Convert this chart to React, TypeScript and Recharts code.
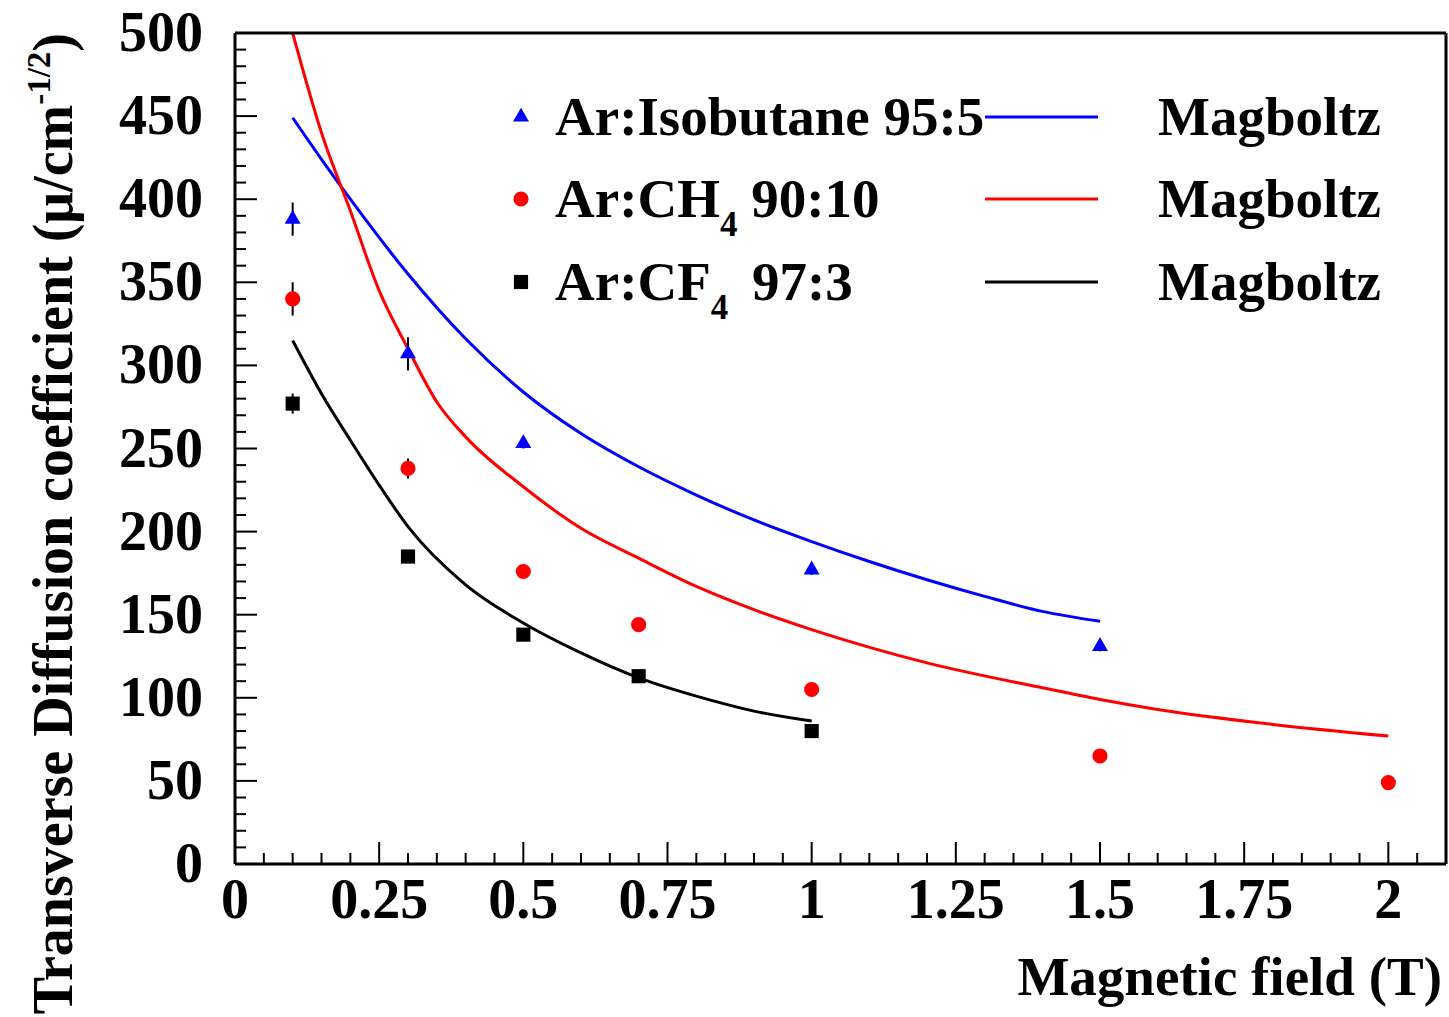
import React from "react";
import {
  ComposedChart,
  Line,
  Scatter,
  XAxis,
  YAxis,
  ErrorBar,
  Symbols,
} from "recharts";

// measured points
const isoB = [0.1, 0.3, 0.5, 1.0, 1.5];
const isoD = [388, 307, 253, 177, 131];
const isoE = [10, 10, 3, 3, 3];

const ch4B = [0.1, 0.3, 0.5, 0.7, 1.0, 1.5, 2.0];
const ch4D = [340, 238, 176, 144, 105, 65, 49];
const ch4E = [10, 6, 3, 3, 3, 3, 3];

const cf4B = [0.1, 0.3, 0.5, 0.7, 1.0];
const cf4D = [277, 185, 138, 113, 80];
const cf4E = [6, 3, 3, 3, 3];

// Magboltz curves
const isoMagB = [0.1, 0.15, 0.2, 0.3, 0.4, 0.5, 0.6, 0.7, 0.8, 0.9, 1.0, 1.1, 1.2, 1.3, 1.4, 1.5];
const isoMagD = [449, 424, 400, 355, 316, 284, 259, 239, 222, 207, 194, 182, 171, 161, 152, 146];

const ch4MagB = [0.1, 0.15, 0.2, 0.25, 0.3, 0.35, 0.4, 0.5, 0.6, 0.7, 0.8, 0.9, 1.0, 1.2, 1.4, 1.5, 1.6, 1.8, 2.0];
const ch4MagD = [500, 440, 393, 345, 310, 278, 257, 227, 202, 184, 167, 153, 141, 121, 106, 99, 93, 84, 77];

const cf4MagB = [0.1, 0.15, 0.2, 0.25, 0.3, 0.4, 0.5, 0.6, 0.7, 0.8, 0.9, 1.0];
const cf4MagD = [315, 283, 255, 228, 203, 168, 145, 127, 112, 101, 92, 86];

const xMajor = [0, 0.25, 0.5, 0.75, 1, 1.25, 1.5, 1.75, 2];
const yMajor = [0, 50, 100, 150, 200, 250, 300, 350, 400, 450, 500];
const xMinor = Array.from({ length: 43 }, (_, i) => Number((i * 0.05).toFixed(2)));
const yMinor = Array.from({ length: 51 }, (_, i) => i * 10);

const FONT = "'Liberation Serif', 'Times New Roman', serif";
const BLUE = "#0000ff";
const RED = "#ff0000";

const pts = (b: number[], d: number[], e?: number[]) =>
  b.map((x, i) => ({ x, y: d[i], err: e ? e[i] : 0 }));

const isoPts = pts(isoB, isoD, isoE);
const ch4Pts = pts(ch4B, ch4D, ch4E);
const cf4Pts = pts(cf4B, cf4D, cf4E);
const isoMag = pts(isoMagB, isoMagD);
const ch4Mag = pts(ch4MagB, ch4MagD);
const cf4Mag = pts(cf4MagB, cf4MagD);

const isMajor = (v: number, list: number[]) => list.some((m) => Math.abs(m - v) < 1e-6);

const BottomTick = (p: any) => {
  const v = p.payload.value;
  const major = isMajor(v, xMajor);
  return (
    <g>
      <line x1={p.x} x2={p.x} y1={p.y} y2={p.y - (major ? 22 : 11)} stroke="#000" strokeWidth={2} />
      {major && (
        <text x={p.x} y={p.y + 54} textAnchor="middle" fontFamily={FONT} fontWeight="bold" fontSize={56} fill="#000">
          {String(v)}
        </text>
      )}
    </g>
  );
};

const TopTick = (p: any) => {
  const major = isMajor(p.payload.value, xMajor);
  return <line x1={p.x} x2={p.x} y1={p.y} y2={p.y + (major ? 22 : 11)} stroke="#000" strokeWidth={2} />;
};

const LeftTick = (p: any) => {
  const v = p.payload.value;
  const major = isMajor(v, yMajor);
  return (
    <g>
      <line x1={p.x} x2={p.x + (major ? 22 : 11)} y1={p.y} y2={p.y} stroke="#000" strokeWidth={2} />
      {major && (
        <text x={p.x - 32} y={p.y + 18} textAnchor="end" fontFamily={FONT} fontWeight="bold" fontSize={56} fill="#000">
          {String(v)}
        </text>
      )}
    </g>
  );
};

const RightTick = (p: any) => {
  const major = isMajor(p.payload.value, yMajor);
  return <line x1={p.x} x2={p.x - (major ? 22 : 11)} y1={p.y} y2={p.y} stroke="#000" strokeWidth={2} />;
};

const XTitle = (p: any) => {
  const vb = p.viewBox;
  return (
    <text x={vb.x + vb.width - 4} y={vb.y + 131} textAnchor="end" fontFamily={FONT} fontWeight="bold" fontSize={55} fill="#000">
      Magnetic field (T)
    </text>
  );
};

const YTitle = (p: any) => {
  const vb = p.viewBox;
  return (
    <text
      transform={`translate(72, ${vb.y}) rotate(-90)`}
      textAnchor="end"
      fontFamily={FONT}
      fontWeight="bold"
      fontSize={56}
      fill="#000"
    >
      Transverse Diffusion coefficient (μ/cm
      <tspan dy={-22} fontSize={33}>-1/2</tspan>
      <tspan dy={22}>)</tspan>
    </text>
  );
};

const marker = (type: any, color: string, size: number) => (p: any) =>
  <Symbols cx={p.cx} cy={p.cy} type={type} size={size} fill={color} />;

const legendRows = [
  { type: "triangle", color: BLUE, size: 110, y: 117 },
  { type: "circle", color: RED, size: 180, y: 199 },
  { type: "square", color: "#000", size: 200, y: 282 },
];

const Legend = () => (
  <svg width={1449} height={1017} style={{ position: "absolute", left: 0, top: 0, pointerEvents: "none" }}>
    {legendRows.map((r, i) => (
      <g key={i}>
        <Symbols cx={521} cy={r.y} type={r.type as any} size={r.size} fill={r.color} />
        <line x1={985} x2={1098} y1={r.y} y2={r.y} stroke={r.color} strokeWidth={3} />
        <text x={1158} y={r.y + 18} fontFamily={FONT} fontWeight="bold" fontSize={55} fill="#000">
          Magboltz
        </text>
      </g>
    ))}
    <g fontFamily={FONT} fontWeight="bold" fontSize={55} fill="#000">
      <text x={555} y={117 + 18}>Ar:Isobutane 95:5</text>
      <text x={555} y={199 + 18}>
        Ar:CH<tspan dy={19} fontSize={35}>4</tspan>
        <tspan dy={-19}> 90:10</tspan>
      </text>
      <text x={555} y={282 + 18}>
        Ar:CF<tspan dy={19} fontSize={35}>4</tspan>
        <tspan dy={-19} dx={10}> 97:3</tspan>
      </text>
    </g>
  </svg>
);

export default function App() {
  return (
    <div style={{ position: "absolute", left: 0, top: 0, width: 1449, height: 1017, background: "#fff" }}>
      <ComposedChart width={1449} height={1017} margin={{ top: 32, right: 2, left: 0, bottom: 0 }}>
        <XAxis
          xAxisId="b"
          type="number"
          dataKey="x"
          domain={[0, 2.1]}
          ticks={xMinor}
          interval={0}
          height={153}
          tickSize={0}
          tickMargin={0}
          tickLine={false}
          axisLine={{ stroke: "#000", strokeWidth: 3 }}
          tick={BottomTick}
          label={{ content: XTitle }}
        />
        <XAxis
          xAxisId="t"
          orientation="top"
          type="number"
          domain={[0, 2.1]}
          ticks={xMinor}
          interval={0}
          height={1}
          tickSize={0}
          tickMargin={0}
          tickLine={false}
          axisLine={{ stroke: "#000", strokeWidth: 3 }}
          tick={TopTick}
        />
        <YAxis
          yAxisId="l"
          type="number"
          dataKey="y"
          domain={[0, 500]}
          ticks={yMinor}
          interval={0}
          width={235}
          tickSize={0}
          tickMargin={0}
          tickLine={false}
          axisLine={{ stroke: "#000", strokeWidth: 3 }}
          tick={LeftTick}
          allowDataOverflow
          label={{ content: YTitle }}
        />
        <YAxis
          yAxisId="r"
          orientation="right"
          type="number"
          domain={[0, 500]}
          ticks={yMinor}
          interval={0}
          width={1}
          tickSize={0}
          tickMargin={0}
          tickLine={false}
          axisLine={{ stroke: "#000", strokeWidth: 3 }}
          tick={RightTick}
        />
        <Line xAxisId="b" yAxisId="l" data={isoMag} dataKey="y" type="monotone" stroke={BLUE} strokeWidth={3} dot={false} isAnimationActive={false} />
        <Line xAxisId="b" yAxisId="l" data={ch4Mag} dataKey="y" type="monotone" stroke={RED} strokeWidth={3} dot={false} isAnimationActive={false} />
        <Line xAxisId="b" yAxisId="l" data={cf4Mag} dataKey="y" type="monotone" stroke="#000" strokeWidth={3} dot={false} isAnimationActive={false} />
        <Scatter xAxisId="b" yAxisId="l" data={isoPts} dataKey="y" shape={marker("triangle", BLUE, 110)} isAnimationActive={false}>
          <ErrorBar dataKey="err" direction="y" width={0} stroke="#000" strokeWidth={2} />
        </Scatter>
        <Scatter xAxisId="b" yAxisId="l" data={ch4Pts} dataKey="y" shape={marker("circle", RED, 180)} isAnimationActive={false}>
          <ErrorBar dataKey="err" direction="y" width={0} stroke="#000" strokeWidth={2} />
        </Scatter>
        <Scatter xAxisId="b" yAxisId="l" data={cf4Pts} dataKey="y" shape={marker("square", "#000", 200)} isAnimationActive={false}>
          <ErrorBar dataKey="err" direction="y" width={0} stroke="#000" strokeWidth={2} />
        </Scatter>
      </ComposedChart>
      <Legend />
    </div>
  );
}
